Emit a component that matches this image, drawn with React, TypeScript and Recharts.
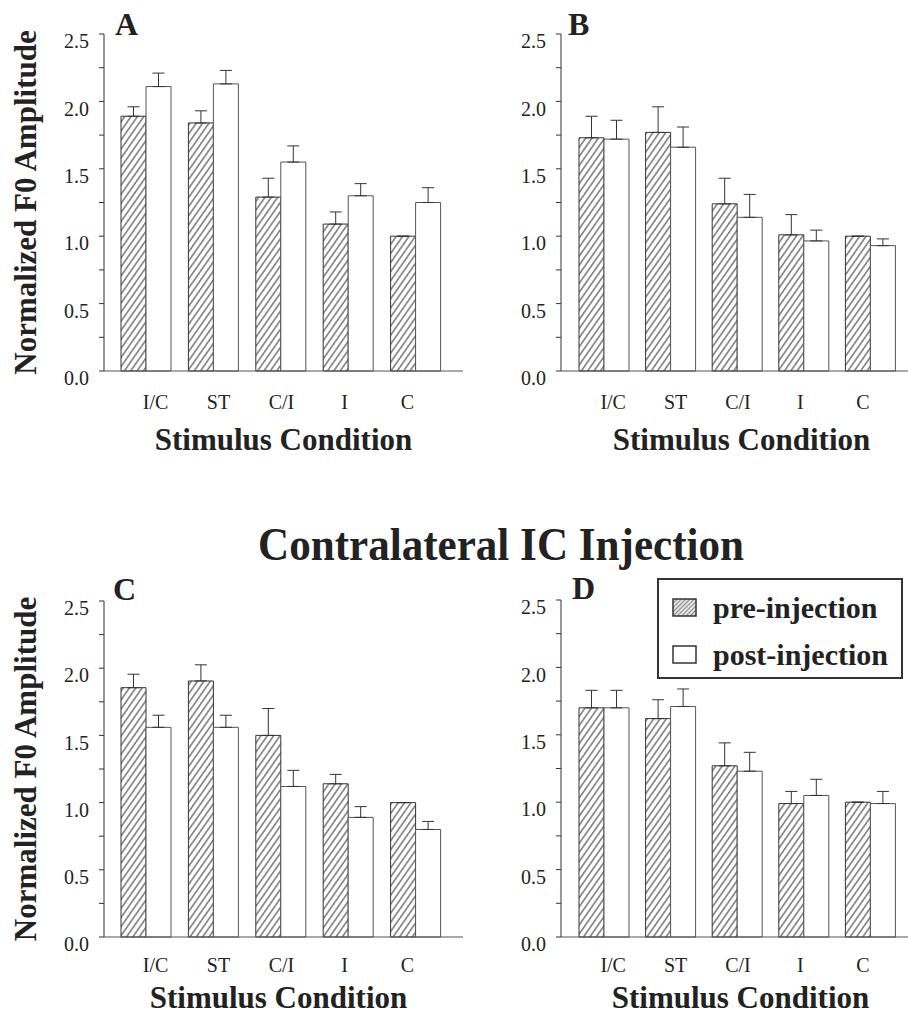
import { BarChart, Bar, XAxis, YAxis, ErrorBar, Legend } from 'recharts';

const conditions = ['I/C', 'ST', 'C/I', 'I', 'C'];
const yTicks = [0, 0.25, 0.5, 0.75, 1, 1.25, 1.5, 1.75, 2, 2.25, 2.5];

// panel A
const preA = [1.89, 1.84, 1.29, 1.09, 1.0];
const preAErr = [0.07, 0.09, 0.14, 0.09, 0];
const postA = [2.11, 2.13, 1.55, 1.3, 1.25];
const postAErr = [0.1, 0.1, 0.12, 0.09, 0.11];

// panel B
const preB = [1.73, 1.77, 1.24, 1.01, 1.0];
const preBErr = [0.16, 0.19, 0.19, 0.15, 0];
const postB = [1.72, 1.66, 1.14, 0.965, 0.93];
const postBErr = [0.14, 0.15, 0.17, 0.08, 0.05];

// panel C
const preC = [1.855, 1.905, 1.5, 1.14, 1.0];
const preCErr = [0.1, 0.12, 0.2, 0.07, 0];
const postC = [1.56, 1.56, 1.12, 0.89, 0.8];
const postCErr = [0.09, 0.09, 0.12, 0.08, 0.06];

// panel D
const preD = [1.7, 1.62, 1.27, 0.99, 1.0];
const preDErr = [0.13, 0.14, 0.17, 0.09, 0];
const postD = [1.7, 1.71, 1.23, 1.05, 0.99];
const postDErr = [0.13, 0.13, 0.14, 0.12, 0.09];

const seriesOrder = ['pre', 'post'];

const SERIF = '"Liberation Serif", "Times New Roman", serif';
const INK = '#222';

function buildRows(pre: number[], preErr: number[], post: number[], postErr: number[]) {
  return conditions.map((cond, i) => ({
    cond,
    pre: pre[i],
    post: post[i],
    preErr: [0, preErr[i]],
    postErr: [0, postErr[i]],
  }));
}

const majorTick = (v: number) => (Math.abs(v * 2 - Math.round(v * 2)) < 1e-6 ? v.toFixed(1) : '');

const renderLegend = (props: any) => {
  const items = [...(props.payload ?? [])].sort(
    (a: any, b: any) => seriesOrder.indexOf(a.dataKey) - seriesOrder.indexOf(b.dataKey)
  );
  return (
    <div
      style={{
        width: 246,
        height: 101,
        boxSizing: 'border-box',
        border: '2px solid #333',
        background: '#fff',
        paddingTop: 4,
      }}
    >
      {items.map((it: any) => (
        <div key={it.value} style={{ display: 'flex', alignItems: 'center', height: 47, paddingLeft: 13 }}>
          <svg width={25} height={19} style={{ marginRight: 16 }}>
            <rect
              x={1}
              y={1}
              width={23}
              height={17}
              fill={it.dataKey === 'pre' ? 'url(#hatch-legend)' : '#fff'}
              stroke="#333"
              strokeWidth={1.5}
            />
          </svg>
          <span style={{ fontFamily: SERIF, fontWeight: 'bold', fontSize: 30, color: INK, lineHeight: 1 }}>{it.value}</span>
        </div>
      ))}
    </div>
  );
};

type PanelProps = {
  id: string;
  letter: string;
  rows: any[];
  left: number;
  top: number;
  width: number;
  height: number;
  plotTop: number;
  axisHeight: number;
  yLabel: boolean;
  barPad: { left: number; right: number };
  tickPad: { left: number; right: number };
  tickDy: number;
  letterDx: number;
  letterDy: number;
  xLabelDx: number;
  xLabelDy: number;
  legend?: boolean;
};

function Panel(p: PanelProps) {
  const hatchId = `hatch-${p.id}`;
  return (
    <div style={{ position: 'absolute', left: p.left, top: p.top }}>
      <BarChart
        width={p.width}
        height={p.height}
        data={p.rows}
        margin={{ top: p.plotTop, right: 0, bottom: 0, left: 0 }}
        barGap={0}
      >
        <defs>
          <pattern id={hatchId} patternUnits="userSpaceOnUse" width={5.2} height={5.2} patternTransform="rotate(35)">
            <rect width={5.2} height={5.2} fill="#fff" />
            <line x1={2.6} y1={0} x2={2.6} y2={5.2} stroke="#333" strokeWidth={1} />
          </pattern>
          {p.legend && (
            <pattern id="hatch-legend" patternUnits="userSpaceOnUse" width={3} height={3} patternTransform="rotate(45)">
              <rect width={3} height={3} fill="#e4e4e4" />
              <line x1={1.5} y1={0} x2={1.5} y2={3} stroke="#888" strokeWidth={1} />
            </pattern>
          )}
        </defs>
        <XAxis xAxisId="bars" dataKey="cond" hide height={0} padding={p.barPad} />
        <XAxis
          xAxisId="labels"
          dataKey="cond"
          padding={p.tickPad}
          height={p.axisHeight}
          interval={0}
          tickLine={false}
          axisLine={{ stroke: '#555', strokeWidth: 1 }}
          tick={{ fontSize: 20, fill: INK, fontFamily: SERIF, dy: p.tickDy }}
          label={(lp: any) => {
            const vb = lp.viewBox ?? { x: 104, y: 0, width: 300 };
            return (
              <text
                x={vb.x + vb.width / 2 + p.xLabelDx}
                y={vb.y + p.xLabelDy}
                textAnchor="middle"
                fontFamily={SERIF}
                fontWeight="bold"
                fontSize={31}
                fill={INK}
              >
                Stimulus Condition
              </text>
            );
          }}
        />
        <YAxis
          domain={[0, 2.5]}
          ticks={yTicks}
          interval={0}
          width={104}
          tickSize={5}
          tickMargin={10}
          tickFormatter={majorTick}
          axisLine={{ stroke: '#333', strokeWidth: 1 }}
          tickLine={{ stroke: '#333', strokeWidth: 1 }}
          tick={{ fontSize: 20, fill: INK, fontFamily: SERIF, dy: 7 }}
          label={(lp: any) => {
            const vb = lp.viewBox ?? { x: 0, y: p.plotTop, width: 104, height: 336 };
            const cy = vb.y + vb.height / 2;
            const bx = vb.x + 36;
            return (
              <g>
                {p.yLabel && (
                  <text
                    x={bx}
                    y={cy}
                    transform={`rotate(-90 ${bx} ${cy})`}
                    textAnchor="middle"
                    fontFamily={SERIF}
                    fontWeight="bold"
                    fontSize={31}
                    fill={INK}
                  >
                    Normalized F0 Amplitude
                  </text>
                )}
                <text
                  x={vb.x + vb.width + p.letterDx}
                  y={vb.y + p.letterDy}
                  fontFamily={SERIF}
                  fontWeight="bold"
                  fontSize={32}
                  fill={INK}
                >
                  {p.letter}
                </text>
              </g>
            );
          }}
        />
        <Bar
          xAxisId="bars"
          dataKey="pre"
          name="pre-injection"
          fill={`url(#${hatchId})`}
          stroke="#333"
          strokeWidth={1}
          barSize={25}
          isAnimationActive={false}
        >
          <ErrorBar dataKey="preErr" direction="y" width={6} stroke="#333" strokeWidth={1} isAnimationActive={false} />
        </Bar>
        <Bar
          xAxisId="bars"
          dataKey="post"
          name="post-injection"
          fill="#fff"
          stroke="#555"
          strokeWidth={1}
          barSize={25}
          isAnimationActive={false}
        >
          <ErrorBar dataKey="postErr" direction="y" width={6} stroke="#333" strokeWidth={1} isAnimationActive={false} />
        </Bar>
        {p.legend && (
          <Legend
            layout="vertical"
            align="center"
            verticalAlign="middle"
            content={renderLegend}
            wrapperStyle={{ left: 200, top: 18, width: 246 }}
          />
        )}
      </BarChart>
    </div>
  );
}

export default function App() {
  return (
    <div style={{ position: 'absolute', left: 0, top: 0, width: 908, height: 1017, background: '#fff', overflow: 'hidden' }}>
      <Panel
        id="A"
        letter="A"
        rows={buildRows(preA, preAErr, postA, postAErr)}
        left={0}
        top={0}
        width={463}
        height={460}
        plotTop={34}
        axisHeight={89}
        yLabel
        barPad={{ left: 8, right: 14 }}
        tickPad={{ left: 20, right: 24 }}
        tickDy={16}
        letterDx={11}
        letterDy={1}
        xLabelDx={0}
        xLabelDy={79}
      />
      <Panel
        id="B"
        letter="B"
        rows={buildRows(preB, preBErr, postB, postBErr)}
        left={457}
        top={0}
        width={451}
        height={460}
        plotTop={34}
        axisHeight={89}
        yLabel={false}
        barPad={{ left: 10, right: 4 }}
        tickPad={{ left: 21, right: 14 }}
        tickDy={16}
        letterDx={7}
        letterDy={1}
        xLabelDx={7}
        xLabelDy={79}
      />
      <svg style={{ position: 'absolute', left: 0, top: 500 }} width={908} height={80}>
        <text
          x={501}
          y={60}
          textAnchor="middle"
          fontFamily={SERIF}
          fontWeight="bold"
          fontSize={47}
          textLength={486}
          lengthAdjust="spacingAndGlyphs"
          fill={INK}
        >
          Contralateral IC Injection
        </text>
      </svg>
      <Panel
        id="C"
        letter="C"
        rows={buildRows(preC, preCErr, postC, postCErr)}
        left={0}
        top={560}
        width={463}
        height={457}
        plotTop={41}
        axisHeight={80}
        yLabel
        barPad={{ left: 8, right: 14 }}
        tickPad={{ left: 20, right: 24 }}
        tickDy={13}
        letterDx={9}
        letterDy={-1}
        xLabelDx={-5}
        xLabelDy={71}
      />
      <Panel
        id="D"
        letter="D"
        rows={buildRows(preD, preDErr, postD, postDErr)}
        left={457}
        top={560}
        width={451}
        height={457}
        plotTop={40}
        axisHeight={80}
        yLabel={false}
        barPad={{ left: 10, right: 4 }}
        tickPad={{ left: 21, right: 14 }}
        tickDy={13}
        letterDx={11}
        letterDy={-1}
        xLabelDx={6}
        xLabelDy={71}
        legend
      />
    </div>
  );
}
